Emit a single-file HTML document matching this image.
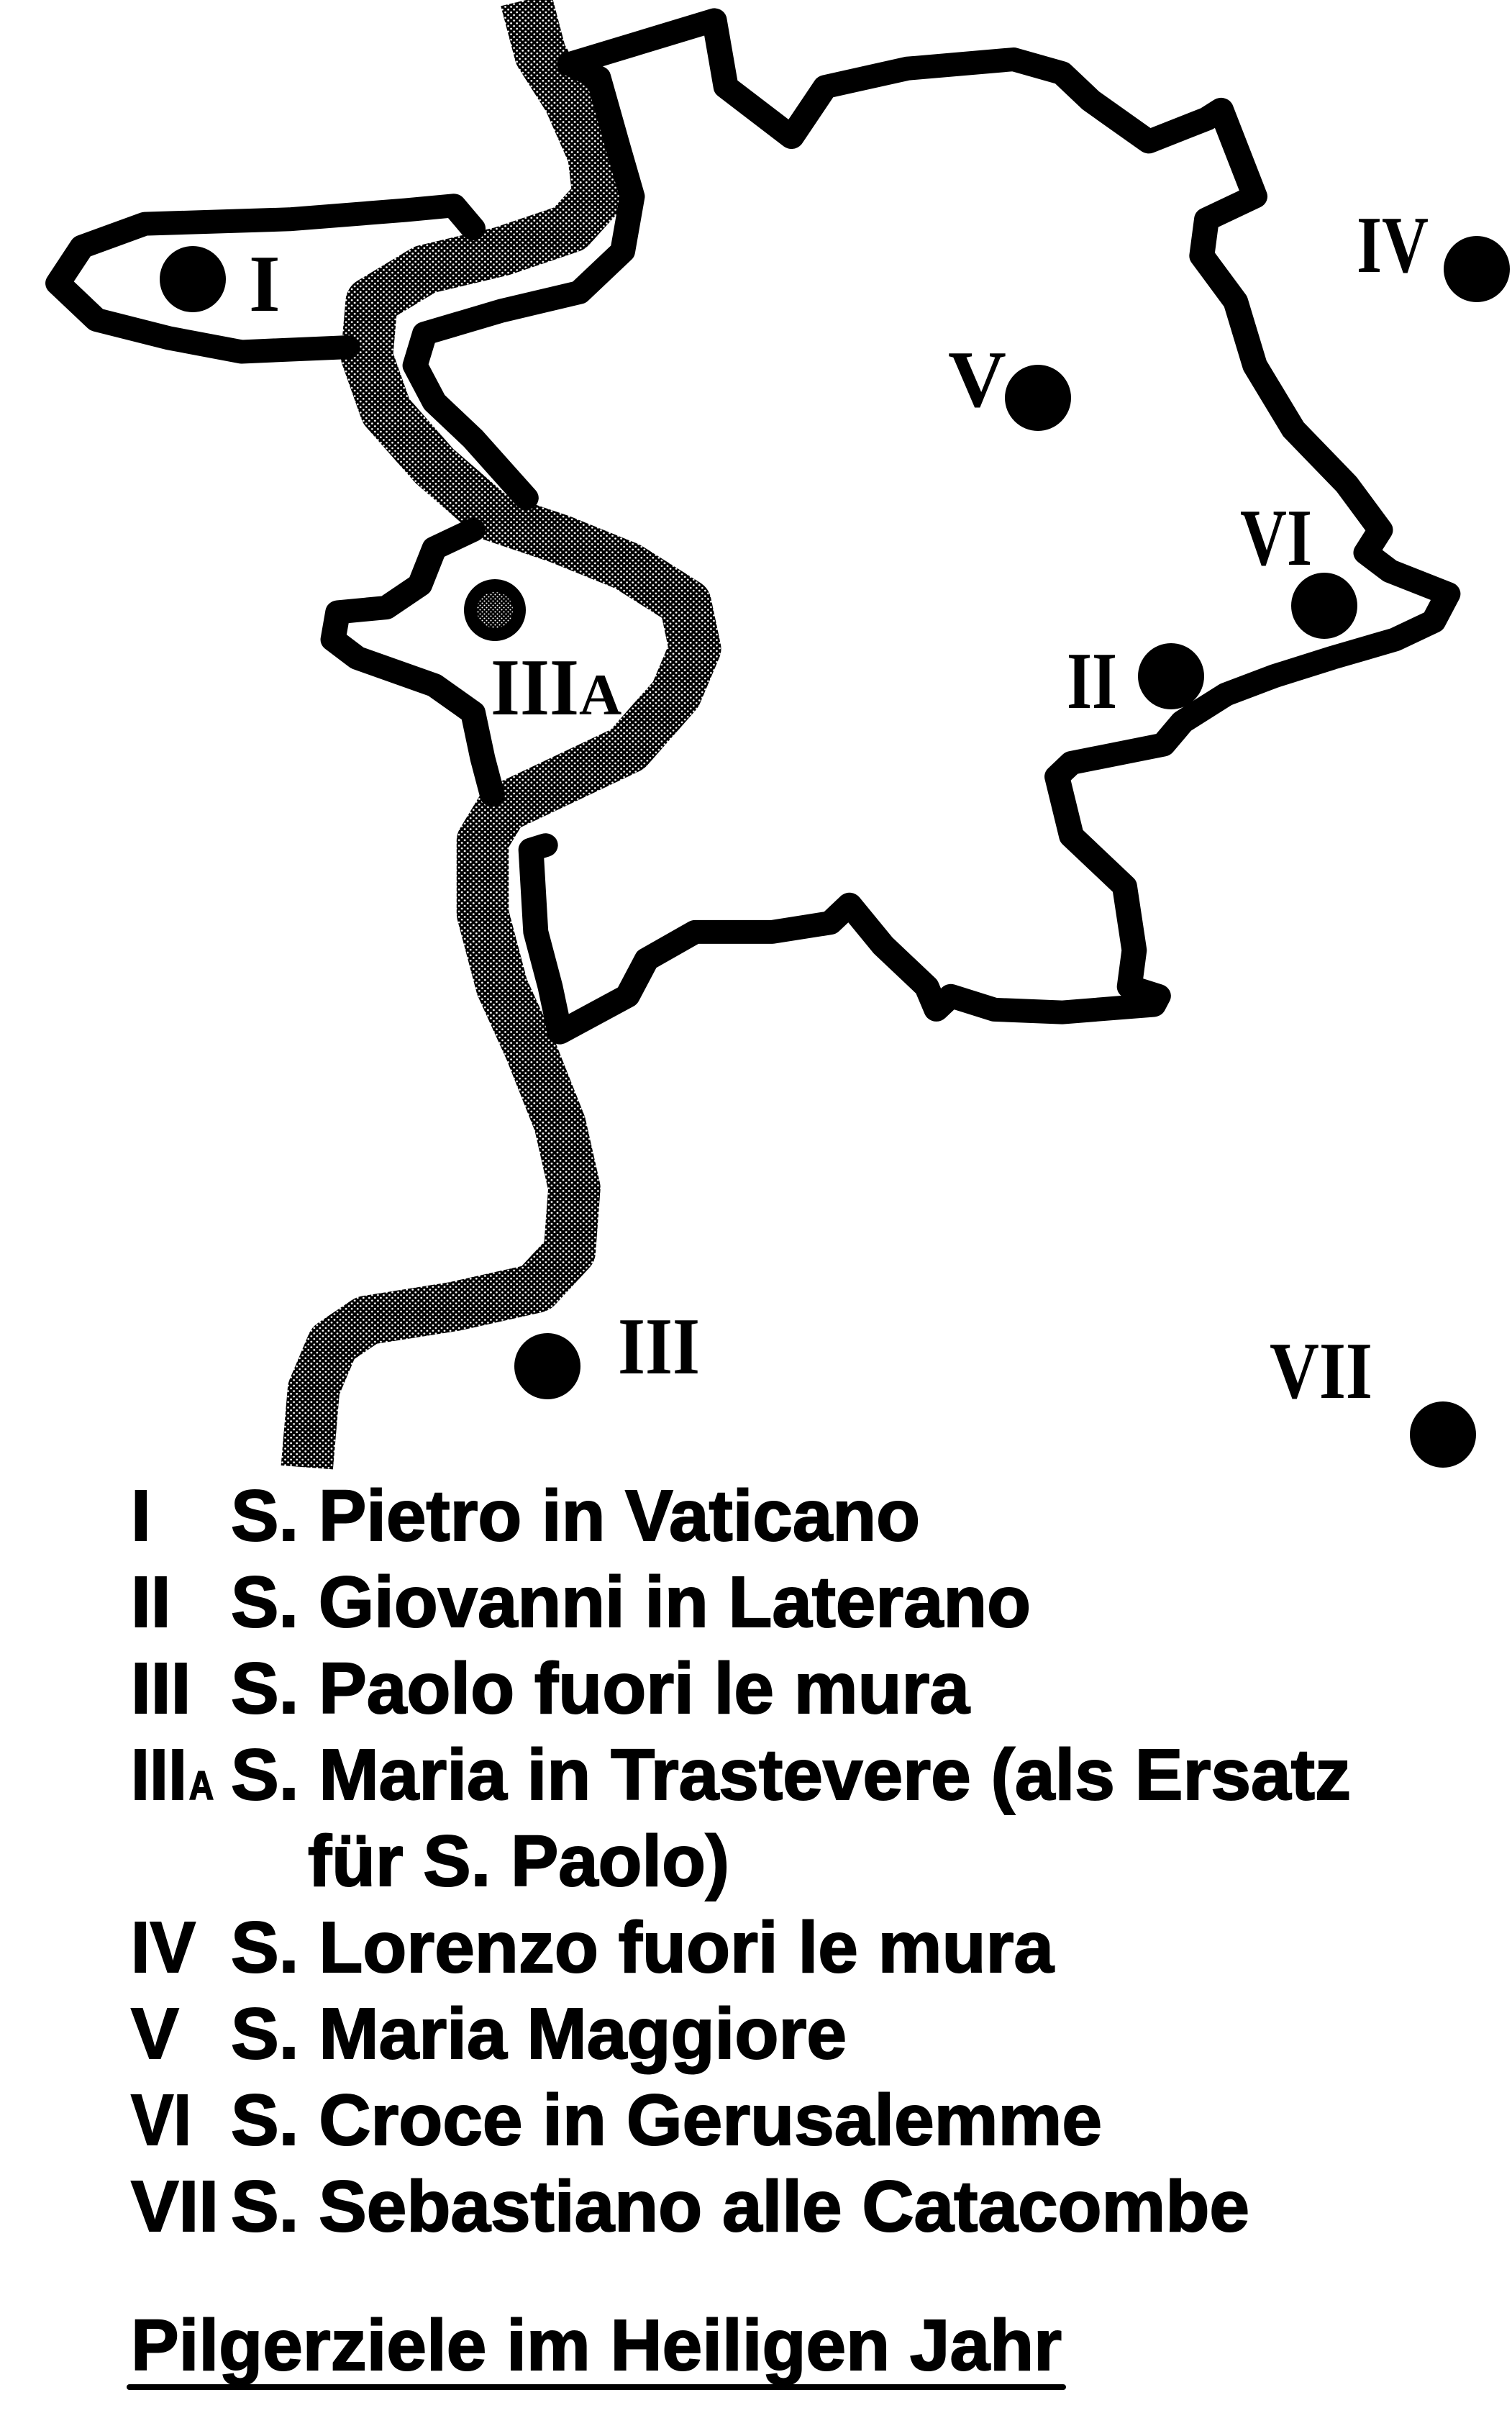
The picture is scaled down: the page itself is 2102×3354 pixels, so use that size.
<!DOCTYPE html>
<html><head><meta charset="utf-8"><style>
html,body{margin:0;padding:0;background:#fff}
svg{display:block}
.m{font-family:"Liberation Serif",serif;font-weight:bold;fill:#000}
.l{font-family:"Liberation Sans",sans-serif;font-weight:bold;fill:#000;stroke:#000;stroke-width:2}
</style></head><body>
<svg width="2102" height="3354" viewBox="0 0 2102 3354" xmlns="http://www.w3.org/2000/svg">
<defs>
<pattern id="dots" width="6" height="6" patternUnits="userSpaceOnUse">
<rect width="6" height="6" fill="#000"/>
<circle cx="1.5" cy="1.5" r="1.05" fill="#fff"/>
<circle cx="4.5" cy="4.5" r="1.05" fill="#fff"/>
</pattern>
</defs>
<rect width="2102" height="3354" fill="#fff"/>
<g transform="scale(1.342,1.27)" fill="none" stroke-linejoin="round" stroke-linecap="round">
<path d="M545,0 L560,60 L590,110 L615,170 L620,215 L590,250 L520,275 L440,295 L385,330 L380,390 L400,450 L450,510 L510,565 L580,590 L650,620 L710,660 L720,710 L700,760 L650,820 L570,860 L520,885 L500,920 L500,1000 L520,1080 L550,1150 L580,1230 L595,1300 L590,1370 L555,1410 L470,1430 L380,1445 L345,1470 L325,1520 L318,1606" stroke="url(#dots)" stroke-width="54" stroke-linecap="butt"/>
<g stroke="#000" stroke-width="26">
<path d="M590,70 L740,22 L752,95 L820,150 L855,95 L940,75 L1050,65 L1100,80 L1130,110 L1190,155 L1250,130 L1265,120 L1300,215 L1250,240 L1245,280 L1280,330 L1300,400 L1340,470 L1395,530 L1430,580 L1415,605 L1440,625 L1500,650 L1485,680 L1445,700 L1380,720 L1320,740 L1270,760 L1225,790 L1205,815 L1110,835 L1095,850 L1110,915 L1165,970 L1175,1040 L1170,1080 L1200,1090 L1195,1100 L1100,1108 L1030,1105 L985,1090 L970,1105 L960,1080 L915,1035 L880,990 L860,1010 L800,1020 L720,1020 L670,1050 L650,1090 L580,1130 L570,1080 L555,1020 L550,930 L565,925"/>
<path d="M590,70 L620,85 L640,160 L655,215 L645,275 L600,320 L520,340 L440,365 L430,400 L450,440 L490,480 L545,545"/>
<path d="M490,250 L470,225 L420,230 L300,240 L150,245 L85,270 L60,310 L100,350 L175,370 L250,385 L360,380"/>
<path d="M490,580 L450,600 L435,640 L400,665 L350,670 L345,700 L370,720 L450,750 L490,780 L500,830 L510,870"/>
</g>
</g>
<g fill="#000">
<circle cx="268" cy="388" r="46"/>
<circle cx="2053" cy="374" r="46"/>
<circle cx="1443" cy="553" r="46"/>
<circle cx="1841" cy="842" r="46"/>
<circle cx="1628" cy="940" r="46"/>
<circle cx="761" cy="1899" r="46"/>
<circle cx="2006" cy="1994" r="46"/>
</g>
<circle cx="688" cy="848" r="34" fill="url(#dots)" stroke="#000" stroke-width="18"/>
<text class="m" x="346" y="432" font-size="112">I</text>
<text class="m" x="1886" y="378" font-size="112" textLength="100" lengthAdjust="spacingAndGlyphs">IV</text>
<text class="m" x="1318" y="565" font-size="112">V</text>
<text class="m" x="1724" y="785" font-size="112" textLength="100" lengthAdjust="spacingAndGlyphs">VI</text>
<text class="m" x="1483" y="984" font-size="112" textLength="70" lengthAdjust="spacingAndGlyphs">II</text>
<text class="m" x="682" y="993" font-size="112" textLength="123" lengthAdjust="spacingAndGlyphs">III</text>
<text class="m" x="805" y="993" font-size="82">A</text>
<text class="m" x="859" y="1909" font-size="112" textLength="114" lengthAdjust="spacingAndGlyphs">III</text>
<text class="m" x="1765" y="1943" font-size="112" textLength="143" lengthAdjust="spacingAndGlyphs">VII</text>
<g class="l" font-size="100">
<text x="182" y="2141">I</text>
<text x="321" y="2141" textLength="958" lengthAdjust="spacingAndGlyphs">S. Pietro in Vaticano</text>
<text x="182" y="2261">II</text>
<text x="321" y="2261" textLength="1112" lengthAdjust="spacingAndGlyphs">S. Giovanni in Laterano</text>
<text x="182" y="2381">III</text>
<text x="321" y="2381" textLength="1027" lengthAdjust="spacingAndGlyphs">S. Paolo fuori le mura</text>
<text x="182" y="2501" textLength="78" lengthAdjust="spacingAndGlyphs">III</text>
<text x="263" y="2501" font-size="56" textLength="34" lengthAdjust="spacingAndGlyphs">A</text>
<text x="321" y="2501" textLength="1557" lengthAdjust="spacingAndGlyphs">S. Maria in Trastevere (als Ersatz</text>
<text x="428" y="2621" textLength="586" lengthAdjust="spacingAndGlyphs">für S. Paolo)</text>
<text x="182" y="2741" textLength="90" lengthAdjust="spacingAndGlyphs">IV</text>
<text x="182" y="2861">V</text>
<text x="321" y="2741" textLength="1144" lengthAdjust="spacingAndGlyphs">S. Lorenzo fuori le mura</text>
<text x="321" y="2861" textLength="856" lengthAdjust="spacingAndGlyphs">S. Maria Maggiore</text>
<text x="182" y="2981" textLength="84" lengthAdjust="spacingAndGlyphs">VI</text>
<text x="321" y="2981" textLength="1211" lengthAdjust="spacingAndGlyphs">S. Croce in Gerusalemme</text>
<text x="182" y="3101" textLength="122" lengthAdjust="spacingAndGlyphs">VII</text>
<text x="321" y="3101" textLength="1416" lengthAdjust="spacingAndGlyphs">S. Sebastiano alle Catacombe</text>
<text x="182" y="3294" textLength="1294" lengthAdjust="spacingAndGlyphs">Pilgerziele im Heiligen Jahr</text>
</g>
<line x1="180" y1="3318" x2="1478" y2="3318" stroke="#000" stroke-width="8" stroke-linecap="round"/>
</svg>
</body></html>
